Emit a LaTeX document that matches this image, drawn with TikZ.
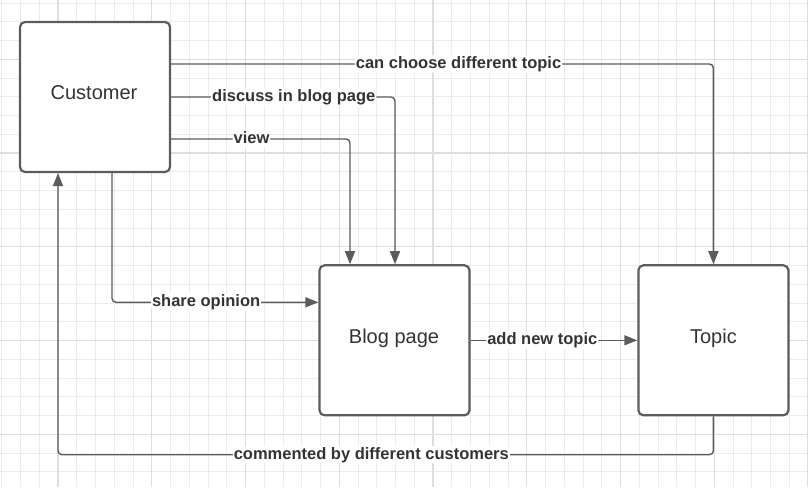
\documentclass[tikz,border=0pt]{standalone}
\usepackage{fontspec}
\setmainfont{Liberation Sans}
\usetikzlibrary{arrows.meta}
\definecolor{lineC}{RGB}{92,92,92}
\definecolor{txtC}{RGB}{51,51,51}
\definecolor{gridMinor}{RGB}{236,236,236}
\definecolor{gridMajor}{RGB}{222,222,222}
\tikzset{
  box/.style={draw=lineC, line width=2.2pt, rounded corners=5pt, fill=white,
    minimum width=150pt, minimum height=150pt, inner sep=0pt,
    font=\fontsize{20}{24}\selectfont, text=txtC},
  boxtext/.style={inner sep=0pt, text height=14.5pt, text depth=4.5pt,
    font=\fontsize{20}{24}\selectfont, text=txtC},
  conn/.style={draw=lineC, line width=1.4pt, rounded corners=4pt,
    -{Triangle[length=13pt,width=10pt]}},
  lbl/.style={fill=white, inner xsep=1pt, inner ysep=1pt, text=txtC,
    text height=12pt, text depth=3pt,
    font=\fontsize{16.5}{19}\selectfont\bfseries}
}
\begin{document}
\begin{tikzpicture}[x=1pt,y=-1pt]
\useasboundingbox (0,0) rectangle (808,487);
\fill[white] (0,0) rectangle (808,487);
% grid
\foreach \k in {0,...,43}{
  \pgfmathsetmacro{\xx}{1.7+18.75*\k}
  \draw[gridMinor, line width=0.9pt] (\xx,0) -- (\xx,487);
}
\foreach \k in {0,...,25}{
  \pgfmathsetmacro{\yy}{3+18.75*\k}
  \draw[gridMinor, line width=0.9pt] (0,\yy) -- (808,\yy);
}
\foreach \k in {3,8,...,43}{
  \pgfmathsetmacro{\xx}{1.7+18.75*\k}
  \draw[gridMajor, line width=1.1pt] (\xx,0) -- (\xx,487);
}
\foreach \k in {3,8,...,23}{
  \pgfmathsetmacro{\yy}{3+18.75*\k}
  \draw[gridMajor, line width=1.1pt] (0,\yy) -- (808,\yy);
}
% boxes
\node[box] (cust) at (95,97) {};
\node[boxtext] (custt) at (94,94) {Customer};
\node[box] (blog) at (394.5,340.3) {};
\node[boxtext] (blogt) at (394,338) {Blog page};
\node[box] (topic) at (713.4,340.3) {};
\node[boxtext] (topict) at (713.4,338) {Topic};
% connectors
\draw[conn] ([yshift=33pt]cust.east) -| node[lbl,pos=0.265]{can choose different topic} (topic.north);
\draw[conn] (cust.east) -| node[lbl,pos=0.274]{discuss in blog page} ([xshift=0.5pt]blog.north);
\draw[conn] ([yshift=-42pt]cust.east) -| node[lbl,pos=0.225]{view} ([xshift=-44.5pt]blog.north);
\draw[conn] ([xshift=17pt]cust.south) |- node[lbl,pos=0.728]{share opinion} ([yshift=38pt]blog.west);
\draw[conn] (blog.east) -- node[lbl,pos=0.43]{add new topic} (topic.west);
\draw[conn] (topic.south) -- ++(0,38.3) -| node[lbl,pos=0.261]{commented by different customers} ([xshift=-37pt]cust.south);
\end{tikzpicture}
\end{document}
